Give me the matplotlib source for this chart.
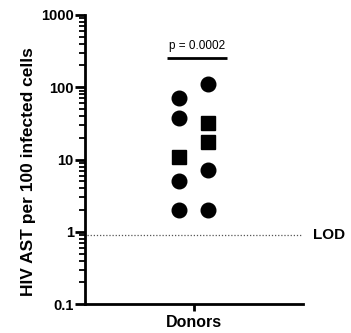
import matplotlib
matplotlib.use("Agg")
import matplotlib.pyplot as plt
from matplotlib.ticker import LogLocator, NullFormatter, FixedLocator, FixedFormatter

plt.rcParams['font.family'] = ['Liberation Sans', 'DejaVu Sans']

# Data
group_label = "Donors"
left_circles = [72, 37, 5, 2]
left_squares = [11]
right_circles = [110, 7.2, 2]
right_squares = [31.7, 17.3]
lod = 0.9
p_text = "p = 0.0002"
y_ticks = [0.1, 1, 10, 100, 1000]
y_tick_labels = ["0.1", "1", "10", "100", "1000"]

fig = plt.figure(figsize=(3.51, 3.33), dpi=100)
ax = fig.add_axes([0.242, 0.087, 0.621, 0.868])

x0 = 0.0
dx = 0.2
ms = 10.5
ax.plot([x0 - dx] * len(left_circles), left_circles, 'o', color='black', ms=ms, clip_on=False)
ax.plot([x0 - dx] * len(left_squares), left_squares, 's', color='black', ms=ms * 0.95, clip_on=False)
ax.plot([x0 + dx] * len(right_circles), right_circles, 'o', color='black', ms=ms, clip_on=False)
ax.plot([x0 + dx] * len(right_squares), right_squares, 's', color='black', ms=ms * 0.95, clip_on=False)

ax.axhline(lod, color='#555555', lw=0.9, ls=(0, (1, 1.5)), xmin=0.01, xmax=1.0)
ax.text(1.045, lod, "LOD", transform=ax.get_yaxis_transform(), ha='left', va='center',
        fontsize=11, fontweight='bold')

# significance bar
ax.plot([x0 - 0.37, x0 + 0.46], [250, 250], color='black', lw=2, solid_capstyle='butt')
ax.text(x0 + 0.04, 310, p_text, ha='center', va='bottom', fontsize=8.5)

ax.set_yscale('log')
ax.set_ylim(0.1, 1000)
ax.set_xlim(-1.5, 1.5)

ax.yaxis.set_major_locator(FixedLocator(y_ticks))
ax.yaxis.set_major_formatter(FixedFormatter(y_tick_labels))
ax.yaxis.set_minor_locator(LogLocator(base=10, subs=range(2, 10)))
ax.yaxis.set_minor_formatter(NullFormatter())

ax.set_xticks([x0])
ax.set_xticklabels([group_label], fontweight='bold', fontsize=11.5)

for s in ['top', 'right']:
    ax.spines[s].set_visible(False)
for s in ['left', 'bottom']:
    ax.spines[s].set_linewidth(2)

ax.tick_params(axis='y', which='major', length=7, width=2, labelsize=10.5, pad=1)
ax.tick_params(axis='y', which='minor', length=4, width=1.3)
ax.tick_params(axis='x', which='major', length=5, width=2, pad=3)
for lbl in ax.get_yticklabels():
    lbl.set_fontweight('bold')

ax.set_ylabel("HIV AST per 100 infected cells", fontweight='bold', fontsize=12.5)
ax.yaxis.set_label_coords(-0.225, 0.457)

fig.savefig("out.png", dpi=100)
